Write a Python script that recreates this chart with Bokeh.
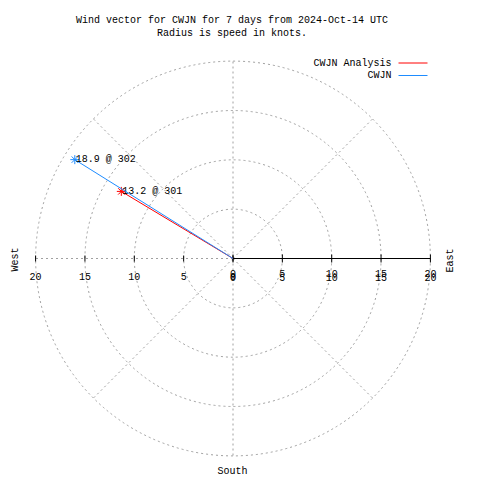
import numpy as np
from bokeh.plotting import figure
from bokeh.models import Label
from bokeh.core.properties import value
from bokeh.embed import file_html
from bokeh.resources import INLINE

# ---- data ----
series_names = ["CWJN Analysis", "CWJN"]
series_colors = ["#ff0000", "#1e8cff"]
speeds = [13.2, 18.9]          # knots
directions = [301, 302]        # degrees (compass)
ring_radii = [5, 10, 15, 20]
tick_values = [0, 5, 10, 15, 20]
spoke_angles = [45, 90, 135, 180, 225, 270, 315]
title_lines = ["Wind vector for CWJN for 7 days from 2024-Oct-14 UTC",
               "Radius is speed in knots."]

# ---- layout ----
W = H = 480
S = 9.87            # px per knot
CX, CY = 232.5, 258.0   # centre in page pixels
OFF = 0
FONT = value("Liberation Mono")
FS = "10px"

def dx(px):  # page pixel x -> data
    return (px - CX) / S
def dy(py):  # page pixel y -> data
    return (CY - py) / S

p = figure(width=W, height=H, output_backend="svg", toolbar_location=None,
           x_range=(dx(OFF), dx(OFF + W)), y_range=(dy(OFF + H), dy(OFF)),
           min_border=0, border_fill_color="white", background_fill_color="white")
p.axis.visible = False
p.grid.visible = False
p.outline_line_color = None

grid_col = "#a0a0a0"
# rings
for r in ring_radii:
    p.circle(x=0, y=0, radius=r, fill_color=None, line_color=grid_col,
             line_dash="2 3", line_width=1)
# spokes
R = max(ring_radii)
ang = np.radians(spoke_angles)
p.segment(x0=np.zeros(len(ang)), y0=np.zeros(len(ang)),
          x1=R * np.cos(ang), y1=R * np.sin(ang),
          line_color=grid_col, line_dash="2 3", line_width=1)

# axis (east side, solid)
p.segment(x0=[0], y0=[0], x1=[R], y1=[0], line_color="black", line_width=1)
tv = np.array(tick_values, dtype=float)
p.segment(x0=tv, y0=np.full(len(tv), 4 / S), x1=tv, y1=np.full(len(tv), -4 / S),
          line_color="black", line_width=1)
p.segment(x0=-tv, y0=np.full(len(tv), 3 / S), x1=-tv, y1=np.full(len(tv), -3 / S),
          line_color="black", line_width=1)

# tick labels
lab = [str(t) for t in tick_values]
p.text(x=-tv, y=np.full(len(tv), dy(276)), text=lab, text_font=FONT,
       text_font_size=FS, text_align="center", text_baseline="middle", text_color="black")
p.text(x=tv, y=np.full(len(tv), dy(273)), text=lab, text_font=FONT,
       text_font_size=FS, text_align="center", text_baseline="middle", text_color="black")
p.text(x=tv, y=np.full(len(tv), dy(276.5)), text=lab, text_font=FONT,
       text_font_size=FS, text_align="center", text_baseline="middle", text_color="black")

# compass labels
p.text(x=[dx(15)], y=[dy(259)], text=["West"], angle=np.pi / 2, text_font=FONT,
       text_font_size=FS, text_align="center", text_baseline="middle", text_color="black")
p.text(x=[dx(450)], y=[dy(260)], text=["East"], angle=np.pi / 2, text_font=FONT,
       text_font_size=FS, text_align="center", text_baseline="middle", text_color="black")
p.text(x=[dx(232)], y=[dy(471)], text=["South"], text_font=FONT,
       text_font_size=FS, text_align="center", text_baseline="middle", text_color="black")

# wind vectors
for name, col, spd, d in zip(series_names, series_colors, speeds, directions):
    th = np.radians(d)
    x = spd * np.sin(th)
    y = spd * np.cos(th)
    p.line(x=[0, x], y=[0, y], line_color=col, line_width=1)
    p.scatter(x=[x], y=[y], marker="asterisk", size=9, line_color=col, line_width=1)
    p.text(x=[x], y=[y], text=[f"{spd:.1f} @ {d}"], x_offset=1, text_font=FONT,
           text_font_size=FS, text_align="left", text_baseline="middle", text_color="black")

# legend
for i, (name, col) in enumerate(zip(series_names, series_colors)):
    ly = 62.5 + i * 12.5
    p.text(x=[dx(391)], y=[dy(ly)], text=[name], text_font=FONT, text_font_size=FS,
           text_align="right", text_baseline="middle", text_color="black")
    p.segment(x0=[dx(398)], y0=[dy(ly)], x1=[dx(427)], y1=[dy(ly)], line_color=col, line_width=1)

# title
for i, t in enumerate(title_lines):
    py = 20 + i * 13.3
    p.add_layout(Label(x=231.5 - OFF, y=H - (py - OFF), x_units="screen", y_units="screen",
                       text=t, text_font="Liberation Mono", text_font_size=FS,
                       text_align="center", text_baseline="middle", text_color="black"))

open("out.html", "w").write(file_html(p, INLINE))
